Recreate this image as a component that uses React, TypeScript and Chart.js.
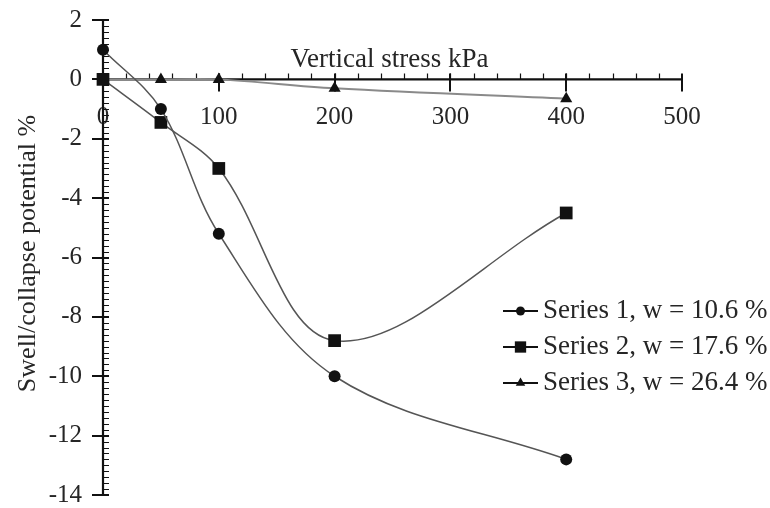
import React, { useEffect, useRef } from "react";
import { Chart, registerables } from "chart.js";

Chart.register(...registerables);

// Vertical stress (kPa) at which each swell/collapse reading was taken
const stressKPa = [0, 50, 100, 200, 400];
// Swell/collapse potential (%) for each series
const series1 = [1.0, -1.0, -5.2, -10.0, -12.8];
const series2 = [0, -1.45, -3.0, -8.8, -4.5];
const series3 = [0, 0, 0, -0.3, -0.65];
const seriesNames = [
  "Series 1, w = 10.6 %",
  "Series 2, w = 17.6 %",
  "Series 3, w = 26.4 %",
];
const xTicks = [0, 100, 200, 300, 400, 500];
const yTicks = [2, 0, -2, -4, -6, -8, -10, -12, -14];
const xTitle = "Vertical stress kPa";
const yTitle = "Swell/collapse potential %";

const SERIF = "'Liberation Serif', 'Times New Roman', serif";
const TEXT = "#262626";
const AXIS = "#111";

const lineColors = ["#555", "#555", "#8a8a8a"];
const lineWidths = [1.5, 1.5, 2];
const markerStyles = ["circle", "rect", "triangle"] as const;
const markerRadii = [6, 9, 7];
const legendRadii = [4.5, 8, 5.5];

// Axes crossing at the origin, with minor ticks, labels and titles
const crossAxesPlugin = {
  id: "crossAxes",
  beforeDatasetsDraw(chart: any) {
    const ctx: CanvasRenderingContext2D = chart.ctx;
    const xs = chart.scales.x;
    const ys = chart.scales.y;
    const x0 = xs.getPixelForValue(0);
    const y0 = ys.getPixelForValue(0);
    const xEnd = xs.getPixelForValue(xTicks[xTicks.length - 1]);
    const yTop = ys.getPixelForValue(yTicks[0]);
    const yBottom = ys.getPixelForValue(yTicks[yTicks.length - 1]);

    ctx.save();
    ctx.fillStyle = TEXT;

    // tick labels
    ctx.font = `25px ${SERIF}`;
    ctx.textAlign = "center";
    ctx.textBaseline = "middle";
    xTicks.forEach((v) => ctx.fillText(String(v), xs.getPixelForValue(v), y0 + 38));
    ctx.textAlign = "right";
    yTicks.forEach((v) => ctx.fillText(String(v), x0 - 21, ys.getPixelForValue(v)));

    // axis titles
    ctx.font = `27px ${SERIF}`;
    ctx.textAlign = "center";
    ctx.textBaseline = "alphabetic";
    ctx.fillText(xTitle, (x0 + xEnd) / 2 - 3, y0 - 12);
    ctx.save();
    ctx.translate(35, (yTop + yBottom) / 2 - 4);
    ctx.rotate(-Math.PI / 2);
    ctx.font = `26px ${SERIF}`;
    ctx.fillText(yTitle, 0, 0);
    ctx.restore();

    ctx.strokeStyle = AXIS;

    // minor ticks
    ctx.lineWidth = 1.2;
    ctx.beginPath();
    for (let v = yTicks[yTicks.length - 1]; v <= yTicks[0] + 1e-9; v += 0.2) {
      const py = Math.round(ys.getPixelForValue(v)) + 0.5;
      ctx.moveTo(x0, py);
      ctx.lineTo(x0 + 6, py);
    }
    for (let v = 20; v < xTicks[xTicks.length - 1]; v += 20) {
      const px = Math.round(xs.getPixelForValue(v)) + 0.5;
      ctx.moveTo(px, y0);
      ctx.lineTo(px, y0 - 6);
    }
    ctx.stroke();

    // major ticks
    ctx.lineWidth = 2;
    ctx.beginPath();
    yTicks.forEach((v) => {
      const py = Math.round(ys.getPixelForValue(v));
      ctx.moveTo(x0 - 11, py);
      ctx.lineTo(x0 + 6, py);
    });
    xTicks.forEach((v) => {
      if (v === 0) return;
      const px = Math.round(xs.getPixelForValue(v));
      ctx.moveTo(px, y0 - 6);
      ctx.lineTo(px, y0 + 12);
    });
    ctx.stroke();

    // axis lines
    ctx.lineWidth = 2.2;
    ctx.beginPath();
    ctx.moveTo(x0, yTop);
    ctx.lineTo(x0, yBottom);
    ctx.moveTo(x0, y0);
    ctx.lineTo(xEnd, y0);
    ctx.stroke();
    ctx.restore();
  },
};

function drawMarker(ctx: CanvasRenderingContext2D, style: string, x: number, y: number, r: number) {
  ctx.beginPath();
  if (style === "circle") {
    ctx.arc(x, y, r, 0, Math.PI * 2);
  } else if (style === "rect") {
    const s = Math.SQRT1_2 * r;
    ctx.rect(x - s, y - s, 2 * s, 2 * s);
  } else {
    const h = r * 1.5;
    const w = (r * Math.sqrt(3)) / 2;
    ctx.moveTo(x, y - r);
    ctx.lineTo(x + w, y - r + h);
    ctx.lineTo(x - w, y - r + h);
    ctx.closePath();
  }
  ctx.fill();
}

// Legend with line-and-marker keys
const legendPlugin = {
  id: "sideLegend",
  afterDatasetsDraw(chart: any) {
    const ctx: CanvasRenderingContext2D = chart.ctx;
    const left = 503;
    const keyWidth = 35;
    const rowTop = 311;
    const rowGap = 36;
    ctx.save();
    seriesNames.forEach((name, i) => {
      const y = rowTop + i * rowGap;
      ctx.strokeStyle = AXIS;
      ctx.lineWidth = 2;
      ctx.beginPath();
      ctx.moveTo(left, y);
      ctx.lineTo(left + keyWidth, y);
      ctx.stroke();
      ctx.fillStyle = AXIS;
      drawMarker(ctx, markerStyles[i], left + keyWidth / 2, y, legendRadii[i]);
      ctx.fillStyle = TEXT;
      ctx.font = `27px ${SERIF}`;
      ctx.textAlign = "left";
      ctx.textBaseline = "middle";
      ctx.fillText(name, left + keyWidth + 5, y);
    });
    ctx.restore();
  },
};

export default function App() {
  const canvasRef = useRef<HTMLCanvasElement | null>(null);

  useEffect(() => {
    if (!canvasRef.current) return;
    const allSeries = [series1, series2, series3];
    const chart = new Chart(canvasRef.current, {
      type: "line",
      data: {
        datasets: allSeries.map((values, i) => ({
          label: seriesNames[i],
          data: stressKPa.map((x, j) => ({ x, y: values[j] })),
          borderColor: lineColors[i],
          borderWidth: lineWidths[i],
          pointStyle: markerStyles[i],
          pointRadius: markerRadii[i],
          pointBackgroundColor: AXIS,
          pointBorderColor: AXIS,
          pointBorderWidth: 0,
          tension: 0.35,
          fill: false,
          clip: false as any,
        })),
      },
      options: {
        responsive: false,
        animation: false,
        devicePixelRatio: 1,
        layout: { padding: { left: 103, right: 88, top: 20, bottom: 13 } },
        scales: {
          x: { type: "linear", min: 0, max: 500, display: false },
          y: { type: "linear", min: -14, max: 2, display: false },
        },
        plugins: {
          legend: { display: false },
          tooltip: { enabled: false },
        },
        events: [],
      },
      plugins: [crossAxesPlugin, legendPlugin],
    });
    return () => chart.destroy();
  }, []);

  return (
    <div style={{ position: "fixed", left: 0, top: 0, width: 770, height: 508, background: "#fff" }}>
      <canvas ref={canvasRef} width={770} height={508} />
    </div>
  );
}
